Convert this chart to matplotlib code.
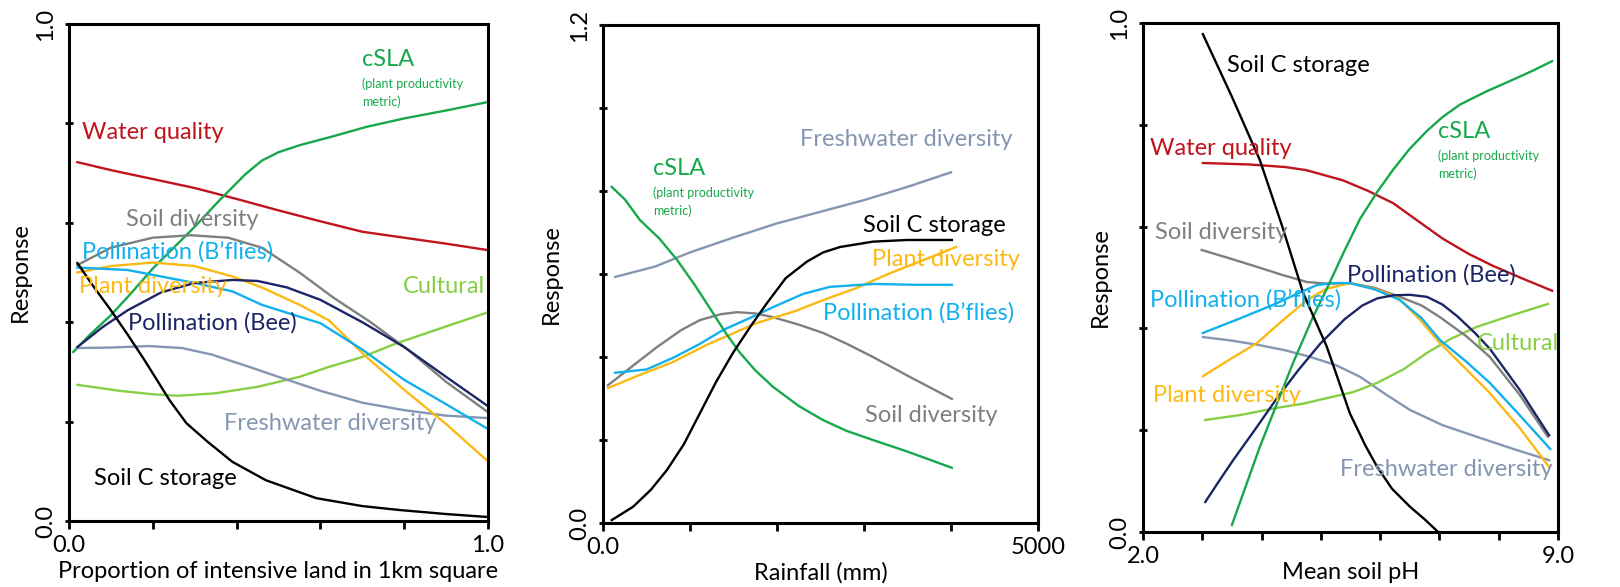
import numpy as np
import matplotlib.pyplot as plt

plt.rcParams['font.family'] = ['Lato', 'DejaVu Sans']

# colours
RED = '#c0141c'
GREEN = '#16a84a'
GRAY = '#7f7f7f'
CYAN = '#12b0ec'
GOLD = '#fdb913'
NAVY = '#1c2566'
SLATE = '#8496b2'
LIME = '#86cf44'
BLACK = '#000000'

# ---- panel 1 : proportion of intensive land ----
water1_x = [0.02, 0.1, 0.2, 0.3, 0.4, 0.5, 0.6, 0.7, 0.8, 0.9, 1.0]
water1_y = [0.722, 0.706, 0.688, 0.67, 0.648, 0.625, 0.603, 0.582, 0.57, 0.558, 0.545]
csla1_x = [0.01, 0.05, 0.1, 0.15, 0.2, 0.25, 0.3, 0.36, 0.42, 0.46, 0.5, 0.55, 0.63, 0.71, 0.8, 0.9, 1.0]
csla1_y = [0.34, 0.375, 0.414, 0.46, 0.508, 0.55, 0.592, 0.646, 0.697, 0.725, 0.742, 0.756, 0.774, 0.793, 0.81, 0.826, 0.843]
soildiv1_x = [0.02, 0.1, 0.2, 0.29, 0.38, 0.46, 0.55, 0.63, 0.72, 0.81, 0.9, 1.0]
soildiv1_y = [0.515, 0.55, 0.57, 0.575, 0.57, 0.55, 0.5, 0.45, 0.4, 0.344, 0.28, 0.219]
bfly1_x = [0.02, 0.14, 0.3, 0.39, 0.46, 0.6, 0.7, 0.8, 0.9, 1.0]
bfly1_y = [0.51, 0.505, 0.479, 0.462, 0.435, 0.398, 0.345, 0.284, 0.235, 0.185]
plant1_x = [0.02, 0.1, 0.2, 0.3, 0.39, 0.46, 0.55, 0.62, 0.71, 0.8, 0.9, 1.0]
plant1_y = [0.5, 0.513, 0.52, 0.513, 0.492, 0.47, 0.435, 0.404, 0.33, 0.264, 0.195, 0.12]
bee1_x = [0.02, 0.08, 0.14, 0.22, 0.3, 0.39, 0.45, 0.52, 0.6, 0.7, 0.8, 0.9, 1.0]
bee1_y = [0.35, 0.39, 0.424, 0.46, 0.479, 0.485, 0.483, 0.47, 0.445, 0.4, 0.35, 0.29, 0.231]
fresh1_x = [0.02, 0.1, 0.19, 0.27, 0.34, 0.42, 0.5, 0.6, 0.7, 0.8, 0.9, 1.0]
fresh1_y = [0.348, 0.349, 0.352, 0.348, 0.335, 0.313, 0.29, 0.262, 0.238, 0.223, 0.212, 0.207]
cult1_x = [0.02, 0.12, 0.2, 0.26, 0.35, 0.45, 0.55, 0.62, 0.7, 0.78, 0.86, 0.93, 1.0]
cult1_y = [0.274, 0.262, 0.255, 0.252, 0.257, 0.27, 0.29, 0.31, 0.33, 0.357, 0.38, 0.4, 0.42]
soilc1_x = [0.02, 0.06, 0.1, 0.14, 0.18, 0.24, 0.28, 0.33, 0.39, 0.47, 0.59, 0.7, 0.79, 0.9, 1.0]
soilc1_y = [0.519, 0.47, 0.424, 0.375, 0.324, 0.243, 0.197, 0.16, 0.119, 0.082, 0.046, 0.03, 0.022, 0.014, 0.008]

# ---- panel 2 : rainfall ----
fresh2_x = [140, 600, 1000, 1500, 2000, 2500, 3000, 3500, 4000]
fresh2_y = [0.593, 0.618, 0.652, 0.688, 0.722, 0.75, 0.778, 0.81, 0.845]
csla2_x = [100, 250, 425, 650, 851, 1050, 1264, 1420, 1575, 1750, 1954, 2250, 2529, 2800, 3103, 3500, 4010]
csla2_y = [0.81, 0.78, 0.73, 0.685, 0.634, 0.575, 0.506, 0.455, 0.41, 0.368, 0.328, 0.282, 0.248, 0.222, 0.2, 0.172, 0.133]
soilc2_x = [100, 345, 550, 736, 930, 1115, 1300, 1494, 1700, 1885, 2100, 2345, 2530, 2724, 3103, 3500, 4010]
soilc2_y = [0.007, 0.039, 0.08, 0.128, 0.19, 0.265, 0.34, 0.41, 0.475, 0.53, 0.59, 0.63, 0.652, 0.665, 0.678, 0.682, 0.682]
plant2_x = [57, 400, 805, 1200, 1770, 2200, 2529, 2900, 3299, 3700, 4057]
plant2_y = [0.325, 0.355, 0.388, 0.43, 0.482, 0.51, 0.537, 0.565, 0.602, 0.635, 0.665]
bfly2_x = [138, 500, 805, 1100, 1379, 1700, 1954, 2300, 2609, 3103, 3600, 4010]
bfly2_y = [0.362, 0.37, 0.398, 0.43, 0.465, 0.495, 0.52, 0.552, 0.569, 0.576, 0.574, 0.574]
soildiv2_x = [57, 350, 621, 900, 1115, 1350, 1540, 1750, 1954, 2250, 2529, 2800, 3103, 3500, 4010]
soildiv2_y = [0.332, 0.38, 0.424, 0.465, 0.489, 0.503, 0.508, 0.505, 0.496, 0.478, 0.458, 0.432, 0.4, 0.355, 0.299]

# ---- panel 3 : soil pH ----
soilc3_x = [3.01, 3.5, 3.97, 4.35, 4.7, 5.1, 5.49, 5.75, 5.95, 6.2, 6.5, 6.75, 6.96]
soilc3_y = [0.978, 0.855, 0.731, 0.6, 0.47, 0.364, 0.233, 0.17, 0.128, 0.085, 0.05, 0.025, 0.002]
water3_x = [3.01, 3.8, 4.4, 4.75, 5.0, 5.37, 5.8, 6.22, 6.65, 7.06, 7.5, 7.9, 8.4, 8.9]
water3_y = [0.725, 0.722, 0.717, 0.711, 0.703, 0.691, 0.67, 0.646, 0.61, 0.576, 0.546, 0.523, 0.498, 0.474]
csla3_x = [3.5, 3.97, 4.53, 4.85, 5.1, 5.4, 5.66, 5.95, 6.22, 6.5, 6.79, 7.05, 7.35, 7.8, 8.19, 8.55, 8.9]
csla3_y = [0.014, 0.167, 0.332, 0.418, 0.478, 0.553, 0.615, 0.668, 0.712, 0.753, 0.788, 0.815, 0.84, 0.866, 0.886, 0.905, 0.925]
soildiv3_x = [2.99, 3.45, 3.92, 4.35, 4.77, 5.1, 5.49, 5.9, 6.33, 6.7, 7.01, 7.45, 7.85, 8.35, 8.83]
soildiv3_y = [0.554, 0.538, 0.521, 0.505, 0.491, 0.488, 0.489, 0.48, 0.462, 0.445, 0.422, 0.385, 0.344, 0.27, 0.187]
bfly3_x = [3.01, 3.6, 4.19, 4.6, 4.93, 5.2, 5.49, 5.9, 6.33, 6.7, 7.01, 7.45, 7.85, 8.35, 8.87]
bfly3_y = [0.391, 0.418, 0.446, 0.468, 0.485, 0.489, 0.489, 0.477, 0.456, 0.42, 0.377, 0.335, 0.293, 0.23, 0.163]
plant3_x = [3.01, 3.45, 3.92, 4.35, 4.77, 5.1, 5.49, 5.9, 6.28, 6.65, 7.01, 7.45, 7.85, 8.35, 8.85]
plant3_y = [0.306, 0.338, 0.371, 0.415, 0.456, 0.478, 0.489, 0.478, 0.462, 0.42, 0.371, 0.32, 0.273, 0.205, 0.128]
bee3_x = [3.05, 3.3, 3.52, 3.9, 4.26, 4.62, 4.99, 5.4, 5.7, 5.95, 6.22, 6.5, 6.79, 7.05, 7.3, 7.6, 7.85, 8.35, 8.85]
bee3_y = [0.059, 0.103, 0.141, 0.203, 0.263, 0.318, 0.37, 0.418, 0.445, 0.459, 0.465, 0.466, 0.462, 0.447, 0.424, 0.391, 0.36, 0.28, 0.19]
fresh3_x = [3.01, 3.5, 3.97, 4.4, 4.82, 5.25, 5.66, 6.1, 6.5, 7.05, 7.63, 8.25, 8.85]
fresh3_y = [0.383, 0.376, 0.367, 0.357, 0.344, 0.328, 0.305, 0.27, 0.24, 0.21, 0.187, 0.163, 0.141]
cult3_x = [3.05, 3.65, 4.26, 4.7, 5.1, 5.55, 5.95, 6.4, 6.79, 7.2, 7.63, 8.2, 8.83]
cult3_y = [0.22, 0.23, 0.244, 0.252, 0.263, 0.275, 0.293, 0.32, 0.352, 0.38, 0.403, 0.425, 0.448]

W, H = 1620, 587
fig = plt.figure(figsize=(W / 100, H / 100), dpi=100)


def make_axes(left, right, top, bottom):
    return fig.add_axes([left / W, (H - bottom) / H, (right - left) / W, (bottom - top) / H])


def style(ax, xlim, ylim, xticks, xlabels, yticks, ylabels, xlabel, ylab_x, xlab_y):
    ax.set_xlim(*xlim)
    ax.set_ylim(*ylim)
    for s in ax.spines.values():
        s.set_linewidth(2.2)
    ax.set_xticks(xticks)
    ax.set_xticklabels(xlabels)
    ax.set_yticks(yticks)
    ax.set_yticklabels(ylabels, rotation=90, va='center')
    ax.tick_params(axis='x', direction='out', length=6, width=2, pad=4, labelsize=17)
    ax.tick_params(axis='y', direction='inout', length=6, width=2, pad=6, labelsize=17)
    ax.set_xlabel(xlabel, fontsize=17)
    ax.set_ylabel('Response', fontsize=17)
    ax.xaxis.set_label_coords(0.5, xlab_y)
    ax.yaxis.set_label_coords(ylab_x, 0.5)


LW = 1.7
FS = 17
SMALL = 9

# panel 1
ax1 = make_axes(69, 488, 24, 521)
ax1.plot(water1_x, water1_y, color=RED, lw=LW)
ax1.plot(csla1_x, csla1_y, color=GREEN, lw=LW)
ax1.plot(soildiv1_x, soildiv1_y, color=GRAY, lw=LW)
ax1.plot(cult1_x, cult1_y, color=LIME, lw=LW)
ax1.plot(fresh1_x, fresh1_y, color=SLATE, lw=LW)
ax1.plot(plant1_x, plant1_y, color=GOLD, lw=LW)
ax1.plot(bfly1_x, bfly1_y, color=CYAN, lw=LW)
ax1.plot(bee1_x, bee1_y, color=NAVY, lw=LW)
ax1.plot(soilc1_x, soilc1_y, color=BLACK, lw=LW)
style(ax1, (0, 1), (0, 1), np.linspace(0, 1, 6), ['0.0', '', '', '', '', '1.0'],
      np.linspace(0, 1, 6), ['0.0', '', '', '', '', '1.0'],
      'Proportion of intensive land in 1km square', -0.092, -0.08)
ax1.text(0.70, 0.928, 'cSLA', color=GREEN, fontsize=FS, va='center')
ax1.text(0.70, 0.879, '(plant productivity', color=GREEN, fontsize=SMALL, va='center')
ax1.text(0.70, 0.843, 'metric)', color=GREEN, fontsize=SMALL, va='center')
ax1.text(0.031, 0.781, 'Water quality', color=RED, fontsize=FS, va='center')
ax1.text(0.136, 0.606, 'Soil diversity', color=GRAY, fontsize=FS, va='center')
ax1.text(0.031, 0.541, 'Pollination (B’flies)', color=CYAN, fontsize=FS, va='center')
ax1.text(0.024, 0.471, 'Plant diversity', color=GOLD, fontsize=FS, va='center')
ax1.text(0.797, 0.471, 'Cultural', color=LIME, fontsize=FS, va='center')
ax1.text(0.141, 0.398, 'Pollination (Bee)', color=NAVY, fontsize=FS, va='center')
ax1.text(0.370, 0.197, 'Freshwater diversity', color=SLATE, fontsize=FS, va='center')
ax1.text(0.060, 0.086, 'Soil C storage', color=BLACK, fontsize=FS, va='center')

# panel 2
ax2 = make_axes(603, 1038, 25, 523)
ax2.plot(fresh2_x, fresh2_y, color=SLATE, lw=LW)
ax2.plot(soildiv2_x, soildiv2_y, color=GRAY, lw=LW)
ax2.plot(plant2_x, plant2_y, color=GOLD, lw=LW)
ax2.plot(bfly2_x, bfly2_y, color=CYAN, lw=LW)
ax2.plot(csla2_x, csla2_y, color=GREEN, lw=LW)
ax2.plot(soilc2_x, soilc2_y, color=BLACK, lw=LW)
style(ax2, (0, 5000), (0, 1.2), np.linspace(0, 5000, 6), ['0.0', '', '', '', '', '5000'],
      np.linspace(0, 1.2, 7), ['0.0', '', '', '', '', '', '1.2'],
      'Rainfall (mm)', -0.094, -0.078)
ax2.text(2264, 0.923, 'Freshwater diversity', color=SLATE, fontsize=FS, va='center')
ax2.text(575, 0.855, 'cSLA', color=GREEN, fontsize=FS, va='center')
ax2.text(575, 0.795, '(plant productivity', color=GREEN, fontsize=SMALL, va='center')
ax2.text(575, 0.752, 'metric)', color=GREEN, fontsize=SMALL, va='center')
ax2.text(2989, 0.718, 'Soil C storage', color=BLACK, fontsize=FS, va='center')
ax2.text(3092, 0.636, 'Plant diversity', color=GOLD, fontsize=FS, va='center')
ax2.text(2529, 0.506, 'Pollination (B’flies)', color=CYAN, fontsize=FS, va='center')
ax2.text(3011, 0.26, 'Soil diversity', color=GRAY, fontsize=FS, va='center')

# panel 3
ax3 = make_axes(1143, 1558, 23, 532)
ax3.plot(water3_x, water3_y, color=RED, lw=LW)
ax3.plot(fresh3_x, fresh3_y, color=SLATE, lw=LW)
ax3.plot(cult3_x, cult3_y, color=LIME, lw=LW)
ax3.plot(soildiv3_x, soildiv3_y, color=GRAY, lw=LW)
ax3.plot(plant3_x, plant3_y, color=GOLD, lw=LW)
ax3.plot(bfly3_x, bfly3_y, color=CYAN, lw=LW)
ax3.plot(bee3_x, bee3_y, color=NAVY, lw=LW)
ax3.plot(csla3_x, csla3_y, color=GREEN, lw=LW)
ax3.plot(soilc3_x, soilc3_y, color=BLACK, lw=LW)
style(ax3, (2, 9), (0, 1), np.arange(2, 10), ['2.0', '', '', '', '', '', '', '9.0'],
      np.linspace(0, 1, 6), ['0.0', '', '', '', '', '1.0'],
      'Mean soil pH', -0.078, -0.059)
ax3.text(3.42, 0.916, 'Soil C storage', color=BLACK, fontsize=FS, va='center')
ax3.text(2.12, 0.754, 'Water quality', color=RED, fontsize=FS, va='center')
ax3.text(6.98, 0.786, 'cSLA', color=GREEN, fontsize=FS, va='center')
ax3.text(6.98, 0.739, '(plant productivity', color=GREEN, fontsize=SMALL, va='center')
ax3.text(6.98, 0.703, 'metric)', color=GREEN, fontsize=SMALL, va='center')
ax3.text(2.2, 0.589, 'Soil diversity', color=GRAY, fontsize=FS, va='center')
ax3.text(5.44, 0.505, 'Pollination (Bee)', color=NAVY, fontsize=FS, va='center')
ax3.text(2.12, 0.456, 'Pollination (B’flies)', color=CYAN, fontsize=FS, va='center')
ax3.text(7.63, 0.371, 'Cultural', color=LIME, fontsize=FS, va='center')
ax3.text(2.17, 0.269, 'Plant diversity', color=GOLD, fontsize=FS, va='center')
ax3.text(5.32, 0.122, 'Freshwater diversity', color=SLATE, fontsize=FS, va='center')

fig.savefig('out.png', dpi=100)
